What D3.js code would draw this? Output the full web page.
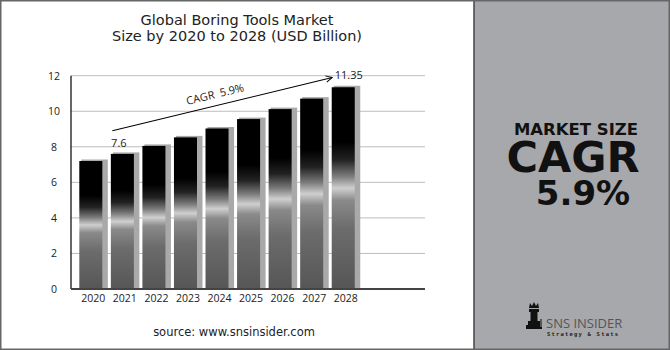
<!DOCTYPE html>
<html><head><meta charset="utf-8">
<script src="https://cdn.jsdelivr.net/npm/d3@7"></script>
<style>html,body{margin:0;padding:0;background:#fff;}svg{display:block;}</style>
</head><body>
<svg id="c" width="670" height="350"></svg>
<script>
const years = ["2020","2021","2022","2023","2024","2025","2026","2027","2028"];
const values = [7.2, 7.6, 8.05, 8.53, 9.03, 9.56, 10.12, 10.71, 11.35];
const yTicks = [0, 2, 4, 6, 8, 10, 12];
const titleLines = ["Global Boring Tools Market", "Size by 2020 to 2028 (USD Billion)"];
const cagrText = "CAGR  5.9%";
const sourceText = "source: www.snsinsider.com";

const svg = d3.select("#c");
const W = 670, H = 350;
const x0 = 71, x1 = 425, yTop = 75.7, yBot = 289;

const defs = svg.append("defs");
const g = defs.append("linearGradient").attr("id","barg").attr("x1",0).attr("y1",0).attr("x2",0).attr("y2",1);
[[0,"#000"],[0.27,"#000"],[0.36,"#222"],[0.44,"#7a7a7a"],[0.5,"#cfcfcf"],[0.56,"#8a8a8a"],[0.7,"#6c6c6c"],[1,"#565656"]]
  .forEach(([o,c])=>g.append("stop").attr("offset",o).attr("stop-color",c));
defs.append("marker").attr("id","arr").attr("viewBox","0 0 10 10").attr("refX",9).attr("refY",5)
  .attr("markerWidth",8).attr("markerHeight",8).attr("orient","auto").attr("markerUnits","userSpaceOnUse")
  .append("path").attr("d","M1,1 L9,5 L1,9").attr("fill","none").attr("stroke","#000").attr("stroke-width",1.2);

// background panels
svg.append("rect").attr("x",0).attr("y",0).attr("width",W).attr("height",H).attr("fill","#fff");
svg.append("rect").attr("x",474).attr("y",0).attr("width",W-474).attr("height",H).attr("fill","#a7a8ab");
svg.append("line").attr("x1",474).attr("x2",474).attr("y1",0).attr("y2",H).attr("stroke","#444").attr("stroke-width",1.5);
svg.append("rect").attr("x",0.75).attr("y",0.75).attr("width",W-1.5).attr("height",H-1.5)
  .attr("fill","none").attr("stroke","#666").attr("stroke-width",1.5);

const y = d3.scaleLinear().domain([0,12]).range([yBot, yTop]);
const x = d3.scaleBand().domain(years).range([79.3, 354.75]).paddingInner(0.27).paddingOuter(0);

// gridlines
svg.append("g").selectAll("line").data(yTicks.filter(d=>d>0)).join("line")
  .attr("x1",x0).attr("x2",x1).attr("y1",d=>y(d)).attr("y2",d=>y(d))
  .attr("stroke","#bdbdbd").attr("stroke-width",1);

// y tick labels
svg.append("g").selectAll("text").data(yTicks).join("text")
  .attr("x",54).attr("y",d=>y(d)+4).attr("text-anchor","middle")
  .attr("font-family","Open Sans").attr("font-size",10.5).attr("fill","#222").text(d=>d);

// bar shadows
svg.append("g").selectAll("rect").data(values).join("rect")
  .attr("x",(d,i)=>x(years[i])+2).attr("y",d=>y(d)-1.5)
  .attr("width",x.bandwidth()+3.5).attr("height",d=>yBot-y(d)+1.5).attr("fill","#a9a9a9");
// bars
svg.append("g").selectAll("rect").data(values).join("rect")
  .attr("x",(d,i)=>x(years[i])).attr("y",d=>y(d))
  .attr("width",x.bandwidth()).attr("height",d=>yBot-y(d)).attr("fill","url(#barg)");

// axes lines
svg.append("line").attr("x1",x0).attr("x2",x0).attr("y1",yTop).attr("y2",yBot).attr("stroke","#000").attr("stroke-width",1.2);
svg.append("line").attr("x1",x0).attr("x2",x1).attr("y1",yBot).attr("y2",yBot).attr("stroke","#444").attr("stroke-width",2);

// x labels
svg.append("g").selectAll("text").data(years).join("text")
  .attr("x",d=>x(d)+x.bandwidth()/2+2.5).attr("y",302).attr("text-anchor","middle")
  .attr("font-family","Open Sans").attr("font-size",10.5).attr("fill","#222").text(d=>d);

// value labels
svg.append("text").attr("x",x(years[1])+8).attr("y",y(values[1])-7).attr("text-anchor","middle")
  .attr("font-family","Open Sans").attr("font-size",11).attr("fill","#222").text(values[1]);
svg.append("text").attr("x",x(years[8])+17).attr("y",y(values[8])-8).attr("text-anchor","middle")
  .attr("font-family","Open Sans").attr("font-size",11).attr("fill","#222").text(values[8]);

// CAGR arrow
const ax1 = x(years[1])+1.5, ay1 = y(values[1]+1.3);
const ax2 = x(years[8])+0.5, ay2 = y(values[8]+0.55);
svg.append("line").attr("x1",ax1).attr("y1",ay1).attr("x2",ax2).attr("y2",ay2)
  .attr("stroke","#000").attr("stroke-width",1.1).attr("marker-end","url(#arr)");
const ang = Math.atan2(ay2-ay1, ax2-ax1)*180/Math.PI;
svg.append("text").attr("transform",`translate(216,98) rotate(${ang})`).attr("text-anchor","middle")
  .attr("font-family","Open Sans").attr("font-size",11).attr("fill","#222").attr("xml:space","preserve").text(cagrText);

// title
svg.append("g").selectAll("text").data(titleLines).join("text")
  .attr("x",237).attr("y",(d,i)=>24.5+i*16).attr("text-anchor","middle")
  .attr("font-family","DejaVu Sans").attr("font-size",14.5).attr("fill","#222").text(d=>d);

// source
svg.append("text").attr("x",234).attr("y",336).attr("text-anchor","middle")
  .attr("font-family","DejaVu Sans").attr("font-size",11.5).attr("fill","#222").text(sourceText);

// right panel text
svg.append("text").attr("x",576).attr("y",135).attr("text-anchor","middle")
  .attr("font-family","DejaVu Sans").attr("font-weight","bold").attr("font-size",16.5).attr("fill","#111").text("MARKET SIZE");
svg.append("text").attr("x",573).attr("y",172).attr("text-anchor","middle")
  .attr("font-family","DejaVu Sans").attr("font-weight","bold").attr("font-size",43).attr("fill","#111").text("CAGR");
svg.append("text").attr("x",583).attr("y",205).attr("text-anchor","middle")
  .attr("font-family","DejaVu Sans").attr("font-weight","bold").attr("font-size",34).attr("fill","#111").text("5.9%");

// logo
const lg = svg.append("g").attr("transform","translate(524,300)");
lg.append("path").attr("d","M6,3 L8,6 L10,2 L12,6 L14,3 L15,8 L5,8 Z").attr("fill","#111");
lg.append("rect").attr("x",5).attr("y",9).attr("width",10).attr("height",3).attr("fill","#111");
lg.append("rect").attr("x",6.5).attr("y",12).attr("width",7).attr("height",9).attr("fill","#111");
lg.append("rect").attr("x",4).attr("y",21).attr("width",12).attr("height",4).attr("fill","#111");
lg.append("rect").attr("x",2).attr("y",25).attr("width",16).attr("height",4).attr("fill","#111");
lg.append("rect").attr("x",16).attr("y",19).attr("width",2).attr("height",8).attr("fill","#555");
svg.append("text").attr("x",546).attr("y",328).attr("font-family","Open Sans").attr("font-size",13)
  .attr("fill","#555").text("SNS INSIDER");
svg.append("text").attr("x",547).attr("y",335.5).attr("font-family","DejaVu Sans Mono").attr("font-weight","bold")
  .attr("font-size",5.5).attr("fill","#222").attr("letter-spacing",1.2).text("Strategy & Stats");
</script>
</body></html>
